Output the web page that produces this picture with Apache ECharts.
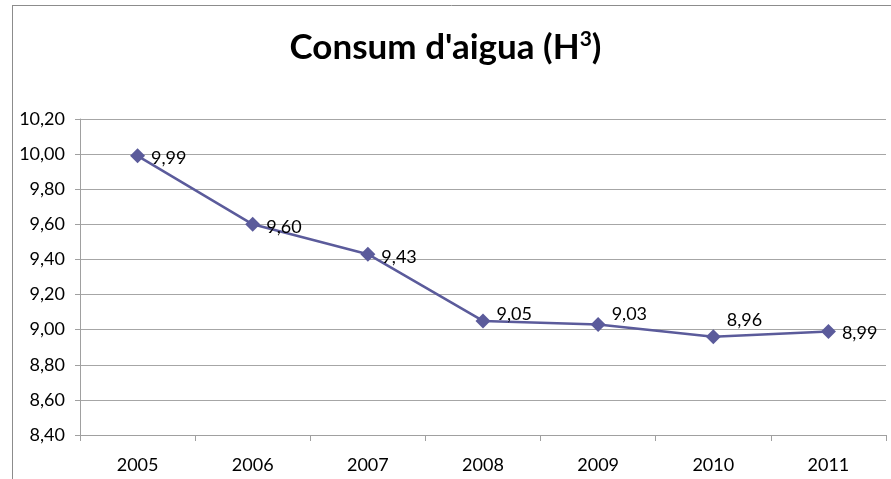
<!DOCTYPE html>
<html><head><meta charset="utf-8">
<script src="https://cdn.jsdelivr.net/npm/echarts@6/dist/echarts.min.js"></script>
<style>html,body{margin:0;padding:0;background:#fff}#c{width:891px;height:479px}</style>
</head><body><div id="c"></div>
<script>
const categories = ['2005','2006','2007','2008','2009','2010','2011'];
const values = [9.99, 9.60, 9.43, 9.05, 9.03, 8.96, 8.99];
const yTicks = {min: 8.4, max: 10.2, interval: 0.2};
const labelOffsets = [[0,2],[0,3],[0,3],[0,-7],[0,-10],[0,-17],[0,2]];

const chart = echarts.init(document.getElementById('c'));
const fmt = v => v.toFixed(2).replace('.', ',');
chart.setOption({
  animation: false,
  title: {
    text: "Consum d'aigua (H{s|3})",
    left: 'center', top: 24,
    textStyle: {fontFamily: 'Lato', fontWeight: 'bold', fontSize: 35, color: '#000',
      rich: {s: {fontFamily: 'Lato', fontWeight: 'bold', fontSize: 21, verticalAlign: 'top', padding: [0,0,16,0], color:'#000'}}}
  },
  graphic: [
    {type: 'line', shape: {x1: 12.5, y1: 5.5, x2: 12.5, y2: 479}, style: {stroke: '#8c8c8c', lineWidth: 1}},
    {type: 'line', shape: {x1: 12, y1: 5.5, x2: 891, y2: 5.5}, style: {stroke: '#8c8c8c', lineWidth: 1}}
  ],
  grid: {left: 80, right: 5, top: 119, bottom: 44},
  xAxis: {
    type: 'category', data: categories, boundaryGap: true,
    axisLine: {lineStyle: {color: '#a0a0a0'}},
    axisTick: {show: true, length: 6, lineStyle: {color: '#a0a0a0'}},
    axisLabel: {color: '#000', fontFamily: 'Lato', fontSize: 18, margin: 21}
  },
  yAxis: {
    type: 'value', min: yTicks.min, max: yTicks.max, interval: yTicks.interval,
    axisLine: {show: true, lineStyle: {color: '#a0a0a0'}},
    axisTick: {show: true, length: 5, lineStyle: {color: '#a0a0a0'}},
    splitLine: {lineStyle: {color: '#a6a6a6'}},
    axisLabel: {color: '#000', fontFamily: 'Lato', fontSize: 18, margin: 15, formatter: v => fmt(v)}
  },
  series: [{
    type: 'line',
    data: values.map((v, i) => ({value: v, label: {offset: labelOffsets[i]}})),
    symbol: 'diamond', symbolSize: 15,
    lineStyle: {color: '#5b5b9b', width: 2.5},
    itemStyle: {color: '#5b5b9b'},
    label: {show: true, position: 'right', distance: 6, color: '#000', fontFamily: 'Lato', fontSize: 18,
      formatter: p => fmt(p.value)}
  }]
});
</script></body></html>
